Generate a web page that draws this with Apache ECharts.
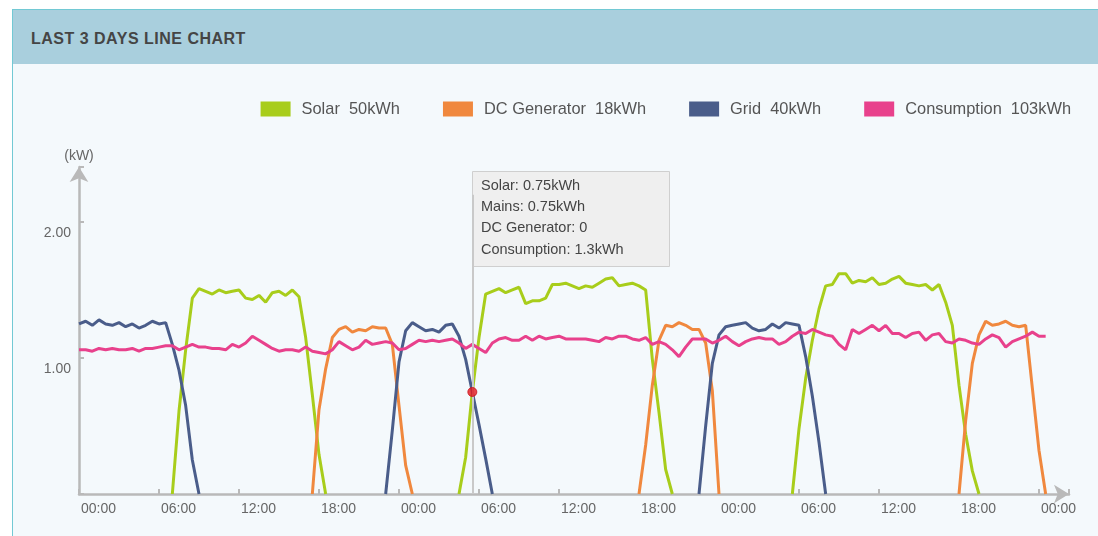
<!DOCTYPE html>
<html lang="en">
<head>
<meta charset="UTF-8">
<title>Last 3 Days Line Chart</title>
<script src="https://cdn.jsdelivr.net/npm/echarts@6.0.0/dist/echarts.min.js"></script>
<style>
    html, body { margin: 0; padding: 0; background: #fff; }
    body { width: 1098px; height: 536px; overflow: hidden; position: relative; font-family: "Liberation Sans", Arial, sans-serif; }
    .card { position: absolute; left: 12px; top: 9px; width: 1100px; height: 540px; border-left: 1px solid #72c9d4; border-top: 1px solid #72c9d4; background: #f4f9fc; }
    .card-head { height: 54px; line-height: 57px; background: #a9cfdd; padding-left: 18px; font-size: 16px; font-weight: bold; color: #454545; letter-spacing: 0.5px; }
    #main { position: absolute; left: 0; top: 0; width: 1098px; height: 536px; }
</style>
</head>
<body>
<div class="card"><div class="card-head">LAST 3 DAYS LINE CHART</div></div>
<div id="main"></div>
<script type="text/javascript">
    // readings every 30 minutes, x = hours since 00:00 of the first day
    const step = 0.5;
    const tickLabels = ['00:00', '06:00', '12:00', '18:00'];
    const seriesNames = ['Solar', 'DC Generator', 'Grid', 'Consumption'];
    const seriesTotals = ['50kWh', '18kWh', '40kWh', '103kWh'];
    const seriesColors = ['#a8cd1b', '#f0883e', '#4a5d8a', '#e8418c'];

    // consumption, from 00:00 day 1 to 00:30 day 4
    const consumption = [
        1.06, 1.06, 1.05, 1.07, 1.06, 1.07, 1.06, 1.06, 1.07, 1.05,
        1.07, 1.07, 1.08, 1.09, 1.09, 1.06, 1.08, 1.10, 1.08, 1.08,
        1.07, 1.07, 1.06, 1.10, 1.08, 1.11, 1.16, 1.13, 1.10, 1.07,
        1.05, 1.06, 1.06, 1.05, 1.08, 1.05, 1.04, 1.03, 1.06, 1.12,
        1.09, 1.06, 1.08, 1.13, 1.10, 1.11, 1.12, 1.11, 1.06, 1.07,
        1.10, 1.13, 1.12, 1.13, 1.12, 1.13, 1.14, 1.11, 1.07, 1.10,
        1.07, 1.04, 1.11, 1.14, 1.15, 1.13, 1.13, 1.16, 1.13, 1.16,
        1.14, 1.15, 1.16, 1.14, 1.14, 1.14, 1.14, 1.13, 1.12, 1.15,
        1.14, 1.16, 1.16, 1.14, 1.13, 1.15, 1.10, 1.12, 1.10, 1.06,
        1.01, 1.08, 1.14, 1.14, 1.14, 1.11, 1.13, 1.16, 1.12, 1.09,
        1.12, 1.14, 1.15, 1.14, 1.14, 1.10, 1.12, 1.16, 1.19, 1.18,
        1.21, 1.19, 1.17, 1.16, 1.10, 1.06, 1.21, 1.18, 1.21, 1.24,
        1.20, 1.24, 1.18, 1.18, 1.15, 1.18, 1.19, 1.13, 1.17, 1.18,
        1.12, 1.11, 1.14, 1.13, 1.11, 1.10, 1.14, 1.17, 1.15, 1.08,
        1.12, 1.14, 1.16, 1.19, 1.16, 1.16
    ];

    // solar runs (start hour of each run)
    const solarStart = [7, 28.5, 53.5];
    const solarDay1 = [0, 0.61, 1.06, 1.44, 1.51, 1.49, 1.47, 1.50, 1.48, 1.49, 1.50, 1.44,
        1.43, 1.46, 1.41, 1.48, 1.49, 1.46, 1.50, 1.45, 1.15, 0.73, 0.29, 0];
    const solarDay2 = [0, 0.27, 0.75, 1.15, 1.47, 1.49, 1.51, 1.48, 1.50, 1.52, 1.40, 1.42,
        1.42, 1.44, 1.54, 1.54, 1.55, 1.53, 1.51, 1.53, 1.52, 1.55, 1.58, 1.59, 1.53, 1.54,
        1.55, 1.53, 1.50, 0.99, 0.60, 0.18, 0];
    const solarDay3 = [0, 0.48, 0.85, 1.13, 1.36, 1.53, 1.54, 1.62, 1.62, 1.55, 1.57, 1.56,
        1.59, 1.54, 1.55, 1.58, 1.60, 1.55, 1.54, 1.53, 1.54, 1.50, 1.54, 1.41, 1.24, 0.80,
        0.44, 0.17, 0];

    // DC generator runs
    const dcStart = [17.5, 42, 66];
    const dcDay1 = [0, 0.62, 0.92, 1.15, 1.21, 1.23, 1.19, 1.21, 1.20, 1.23, 1.22, 1.22,
        1.10, 0.65, 0.21, 0];
    const dcDay2 = [0, 0.36, 0.80, 1.13, 1.24, 1.23, 1.26, 1.24, 1.21, 1.21, 1.11, 0.76, 0];
    const dcDay3 = [0, 0.54, 0.96, 1.17, 1.27, 1.24, 1.25, 1.27, 1.24, 1.23, 1.24, 0.78, 0.32, 0];

    // grid runs
    const gridStart = [0, 23, 46.5];
    const gridDay1 = [1.25, 1.27, 1.24, 1.28, 1.25, 1.24, 1.26, 1.23, 1.25, 1.22, 1.24, 1.27,
        1.25, 1.26, 1.10, 0.91, 0.65, 0.25, 0];
    const gridDay2 = [0, 0.47, 0.97, 1.20, 1.26, 1.23, 1.20, 1.21, 1.19, 1.24, 1.25, 1.16,
        0.99, 0.75, 0.51, 0.26, 0];
    const gridDay3 = [0, 0.50, 0.96, 1.17, 1.23, 1.24, 1.25, 1.26, 1.22, 1.20, 1.21, 1.25,
        1.22, 1.26, 1.25, 1.24, 1.01, 0.72, 0.38, 0];

    // hovered point shown in the tooltip
    const tipHour = 29.5;
    const tipLines = ['Solar: 0.75kWh', 'Mains: 0.75kWh', 'DC Generator: 0', 'Consumption: 1.3kWh'];
    const tipValue = solarDay2[(tipHour - solarStart[1]) / step];

    function runsToData(starts, runs) {
        const out = [];
        runs.forEach((vals, r) => {
            if (r > 0) out.push([starts[r] - step / 2, null]);
            vals.forEach((v, i) => out.push([starts[r] + i * step, v]));
        });
        return out;
    }

    const seriesData = [
        runsToData(solarStart, [solarDay1, solarDay2, solarDay3]),
        runsToData(dcStart, [dcDay1, dcDay2, dcDay3]),
        runsToData(gridStart, [gridDay1, gridDay2, gridDay3]),
        consumption.map((v, i) => [i * step, v])
    ];

    const axisGray = '#b9b9b9';
    const font = '"Liberation Sans", Arial, sans-serif';

    let myChart = echarts.init(document.getElementById('main'));

    const lineSeries = seriesNames.map((name, k) => ({
        name: name,
        type: 'line',
        data: seriesData[k],
        showSymbol: false,
        symbol: 'none',
        color: seriesColors[k],
        lineStyle: { color: seriesColors[k], width: 3 },
        itemStyle: { color: seriesColors[k] },
        z: 2
    }));

    const options = {
        animation: false,
        tooltip: { show: false },
        legend: {
            data: seriesNames,
            right: 22,
            top: 96,
            icon: 'rect',
            itemWidth: 30,
            itemHeight: 15,
            itemGap: 43,
            formatter: name => name + '  ' + seriesTotals[seriesNames.indexOf(name)],
            textStyle: { fontSize: 16.4, color: '#555', fontFamily: font, padding: [0, 0, 0, 6] }
        },
        grid: { left: 79, right: 29, top: 167, bottom: 42, containLabel: false, outerBoundsMode: 'none' },
        xAxis: {
            type: 'value',
            min: 0,
            max: 74.25,
            interval: 6,
            splitLine: { show: false },
            axisLine: { show: true, symbol: ['none', 'arrow'], symbolSize: [14, 15], lineStyle: { color: axisGray, width: 2.5 } },
            axisTick: { show: true, inside: true, length: 5, lineStyle: { color: axisGray, width: 2 } },
            axisLabel: {
                formatter: v => (v % 6 === 0 ? tickLabels[(v / 6) % 4] : ''),
                align: 'left',
                margin: 8,
                padding: [0, 0, 0, 2],
                color: '#666',
                fontSize: 14,
                fontFamily: font
            }
        },
        yAxis: {
            type: 'value',
            min: 0,
            max: 2.404,
            interval: 1,
            name: '(kW)',
            nameLocation: 'end',
            nameGap: 4,
            nameTextStyle: { color: '#666', fontSize: 14, fontFamily: font },
            splitLine: { show: false },
            axisLine: { show: true, symbol: ['none', 'arrow'], symbolSize: [14, 15], lineStyle: { color: axisGray, width: 2.5 } },
            axisTick: { show: true, inside: true, length: 5, lineStyle: { color: axisGray, width: 2 } },
            axisLabel: {
                formatter: v => (v > 0 && v % 1 === 0 ? v.toFixed(2) : ''),
                margin: 8,
                verticalAlign: 'top',
                padding: [4, 0, 0, 0],
                color: '#666',
                fontSize: 14,
                fontFamily: font
            }
        },
        graphic: [{
            type: 'group',
            x: 472,
            y: 171,
            z: 100,
            children: [
                { type: 'rect', shape: { x: 0.5, y: 0.5, width: 197, height: 95 }, style: { fill: '#efefef', stroke: '#cfcfcf', lineWidth: 1 } },
                { type: 'text', x: 9, y: 4, style: { text: tipLines.join('\n'), font: '14.5px ' + font, fill: '#444', lineHeight: 21.3 } }
            ]
        }],
        series: lineSeries.concat([{
            type: 'scatter',
            data: [[tipHour, tipValue]],
            symbolSize: 9,
            itemStyle: { color: '#e3161d', borderColor: '#c8101a', borderWidth: 1 },
            z: 5,
            markLine: {
                silent: true,
                symbol: ['none', 'none'],
                label: { show: false },
                lineStyle: { color: '#c9c9c9', width: 2, type: 'solid' },
                // pointer line runs from the axis up under the tooltip box
                data: [[{ coord: [tipHour, 0] }, { coord: [tipHour, 2.2] }]]
            }
        }])
    };

    myChart.setOption(options);
</script>
</body>
</html>
